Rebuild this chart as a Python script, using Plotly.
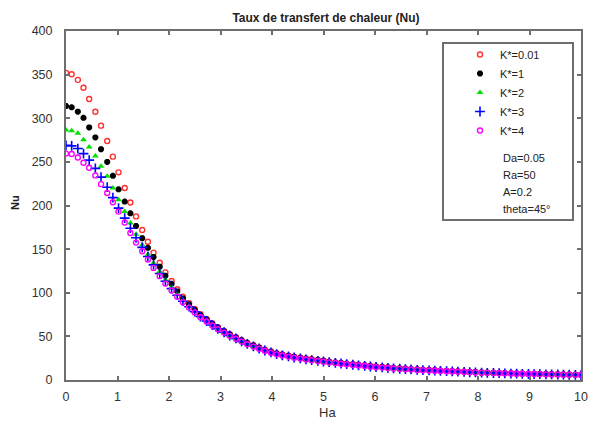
import plotly.graph_objects as go

# Hartmann number grid
ha = [0.00, 0.11, 0.23, 0.34, 0.45, 0.57, 0.68, 0.80, 0.91, 1.02,
      1.14, 1.25, 1.36, 1.48, 1.59, 1.70, 1.82, 1.93, 2.05, 2.16,
      2.27, 2.39, 2.50, 2.61, 2.73, 2.84, 2.95, 3.07, 3.18, 3.30,
      3.41, 3.52, 3.64, 3.75, 3.86, 3.98, 4.09, 4.20, 4.32, 4.43,
      4.55, 4.66, 4.77, 4.89, 5.00, 5.11, 5.23, 5.34, 5.45, 5.57,
      5.68, 5.80, 5.91, 6.02, 6.14, 6.25, 6.36, 6.48, 6.59, 6.70,
      6.82, 6.93, 7.05, 7.16, 7.27, 7.39, 7.50, 7.61, 7.73, 7.84,
      7.95, 8.07, 8.18, 8.30, 8.41, 8.52, 8.64, 8.75, 8.86, 8.98,
      9.09, 9.20, 9.32, 9.43, 9.55, 9.66, 9.77, 9.89, 10.00]

# Nusselt number for each permeability ratio K*
nu_k001 = [352, 350.5, 344, 335, 322, 307.5, 291.5, 274, 256, 238,
           220, 203.5, 187.5, 172, 158.5, 146, 134.4, 123.4, 113.5, 104,
           95.5, 88, 81.4, 75.5, 70, 65, 60.5, 56.3, 52.5, 49,
           45.7, 42.6, 39.8, 37.2, 34.8, 32.6, 30.6, 29.2, 27.9, 26.7,
           25.6, 24.6, 23.7, 22.9, 22.1, 21.0, 20.2, 19.5, 18.8, 18.1,
           17.4, 16.8, 16.1, 15.5, 15.0, 14.5, 13.7, 13.3, 12.9, 12.5,
           12.1, 11.7, 11.4, 11.1, 10.8, 10.5, 10.2, 9.9, 9.6, 9.3,
           9.1, 8.7, 8.5, 8.3, 8.1, 7.9, 7.7, 7.5, 7.4, 7.2,
           7.1, 7.0, 6.8, 6.7, 6.6, 6.4, 6.3, 6.2, 6.0]

nu_k1 = [314, 312.5, 307.5, 300.5, 289.5, 278, 264.5, 250, 234, 218.5,
         204.5, 191, 176.5, 162.5, 151.5, 141, 129.8, 119.5, 110.2, 101.5,
         93.5, 86.5, 80.2, 74.5, 69.1, 64.3, 59.8, 55.7, 51.9, 48.5,
         45.2, 42.1, 39.4, 36.8, 34.4, 32.2, 30.2, 28.9, 27.6, 26.4,
         25.3, 24.3, 23.4, 22.6, 21.8, 20.8, 20.0, 19.3, 18.6, 17.9,
         17.2, 16.6, 15.9, 15.3, 14.8, 14.3, 13.6, 13.2, 12.8, 12.4,
         12.0, 11.6, 11.3, 11.0, 10.7, 10.4, 10.1, 9.8, 9.5, 9.2,
         9.0, 8.6, 8.4, 8.2, 8.0, 7.8, 7.6, 7.4, 7.3, 7.1,
         7.0, 6.9, 6.7, 6.6, 6.5, 6.3, 6.2, 6.1, 5.9]

nu_k2 = [286.5, 285.7, 282.7, 275.5, 267, 256.7, 245, 233.5, 220, 206.5,
         193, 180, 167, 155, 144, 134, 124.4, 115, 106.4, 98.5,
         91.3, 84.8, 78.9, 73.2, 68.1, 63.4, 59.1, 55.0, 51.3, 47.8,
         44.6, 41.6, 38.8, 36.3, 34.0, 31.8, 29.8, 28.5, 27.2, 26.0,
         24.9, 23.9, 23.0, 22.2, 21.4, 20.5, 19.7, 19.0, 18.3, 17.6,
         16.9, 16.3, 15.6, 15.0, 14.5, 14.0, 13.4, 13.0, 12.6, 12.2,
         11.8, 11.4, 11.1, 10.8, 10.5, 10.2, 9.9, 9.6, 9.3, 9.0,
         8.8, 8.5, 8.3, 8.1, 7.9, 7.7, 7.5, 7.3, 7.2, 7.0,
         6.9, 6.8, 6.6, 6.5, 6.4, 6.2, 6.1, 6.0, 5.8]

nu_k3 = [269, 268.3, 265.3, 259.5, 252, 242.6, 232.5, 221, 209, 197,
         185.5, 174, 163, 152, 141.5, 132, 122.1, 113.1, 104.7, 97.2,
         90.3, 84, 78.3, 72.7, 67.6, 63.0, 58.7, 54.7, 51.0, 47.6,
         44.3, 41.3, 38.6, 36.1, 33.8, 31.6, 29.6, 28.3, 27.0, 25.8,
         24.7, 23.7, 22.8, 22.0, 21.2, 20.4, 19.6, 18.9, 18.2, 17.5,
         16.8, 16.2, 15.5, 14.9, 14.4, 13.9, 13.3, 12.9, 12.5, 12.1,
         11.7, 11.3, 11.0, 10.7, 10.4, 10.1, 9.8, 9.5, 9.2, 8.9,
         8.7, 8.4, 8.2, 8.0, 7.8, 7.6, 7.4, 7.2, 7.1, 6.9,
         6.8, 6.7, 6.5, 6.4, 6.3, 6.1, 6.0, 5.9, 5.7]

nu_k4 = [259.5, 259, 255, 249, 243.3, 234.5, 224.5, 214.3, 203.7, 193,
         180.5, 168.5, 157.5, 147.5, 138, 128.5, 119, 110.5, 102.5, 95.5,
         89, 83, 77.5, 72, 67, 62.5, 58.3, 54.3, 50.6, 47.2,
         44, 41, 38.3, 35.8, 33.5, 31.3, 29.4, 28.1, 26.8, 25.6,
         24.5, 23.5, 22.6, 21.8, 21.0, 20.2, 19.4, 18.7, 18.0, 17.3,
         16.6, 16.0, 15.3, 14.7, 14.2, 13.7, 13.2, 12.8, 12.4, 12.0,
         11.6, 11.2, 10.9, 10.6, 10.3, 10.0, 9.7, 9.4, 9.1, 8.8,
         8.6, 8.4, 8.2, 8.0, 7.8, 7.6, 7.4, 7.2, 7.1, 6.9,
         6.8, 6.7, 6.5, 6.4, 6.3, 6.1, 6.0, 5.9, 5.7]

series_names = ["K*=0.01", "K*=1", "K*=2", "K*=3", "K*=4"]
series_values = [nu_k001, nu_k1, nu_k2, nu_k3, nu_k4]
params = ["Da=0.05", "Ra=50", "A=0.2", "theta=45°"]

x_ticks = list(range(0, 11))
y_ticks = list(range(0, 401, 50))

styles = [
    dict(symbol="circle-open", color="#ff3030", size=5, line=dict(width=1.4, color="#ff3030")),
    dict(symbol="asterisk-open", color="#000000", size=5, line=dict(width=2.2, color="#000000")),
    dict(symbol="triangle-up", color="#00e000", size=6, line=dict(width=0)),
    dict(symbol="cross-thin-open", color="#0000ff", size=7, line=dict(width=1.6, color="#0000ff")),
    dict(symbol="circle-open", color="#ff00ff", size=5, line=dict(width=1.4, color="#ff00ff")),
]

FONT = "Liberation Sans, Arial, sans-serif"
W, H = 589, 421
ML, MR, MT, MB = 66, 8, 31, 41
PW, PH = W - ML - MR, H - MT - MB


def px_x(px):
    return (px - ML) / PW


def px_y(py):
    return (H - MB - py) / PH


fig = go.Figure()
for name, vals, st in zip(series_names, series_values, styles):
    fig.add_trace(go.Scatter(x=ha, y=vals, mode="markers", name=name, marker=st))

axis_common = dict(
    showline=True, linecolor="#6e6e6e", linewidth=2, mirror="ticks",
    ticks="inside", ticklen=4, tickwidth=1.5, tickcolor="#6e6e6e",
    showgrid=False, zeroline=False, ticklabeloverflow="allow", automargin=False,
    tickfont=dict(family=FONT, size=12.5, color="#333333"),
)

fig.update_layout(
    width=W, height=H,
    margin=dict(l=ML, r=MR, t=MT, b=MB, autoexpand=False),
    paper_bgcolor="white", plot_bgcolor="white",
    font=dict(family=FONT, color="#222222"),
    title=dict(text="<b>Taux de transfert de chaleur (Nu)</b>",
               x=px_x(326), xref="paper", xanchor="center",
               y=1 - 18 / H, yanchor="middle",
               font=dict(family=FONT, size=12, color="#222222")),
    xaxis=dict(range=[0, 10], tickvals=x_ticks, ticklabelstandoff=4, **axis_common),
    yaxis=dict(range=[0, 400], tickvals=y_ticks, ticklabelstandoff=9, **axis_common),
    showlegend=True,
    legend=dict(x=px_x(460), y=px_y(40), xanchor="left", yanchor="top",
                bgcolor="rgba(0,0,0,0)", borderwidth=0,
                font=dict(family=FONT, size=11, color="#222222")),
)

# legend frame
fig.add_shape(type="rect", xref="paper", yref="paper",
              x0=px_x(443), x1=px_x(573), y0=px_y(220), y1=px_y(43),
              line=dict(color="#6e6e6e", width=2), fillcolor="white", layer="above")

# parameter block inside the legend frame
for i, txt in enumerate(params):
    fig.add_annotation(text=txt, xref="paper", yref="paper",
                       x=px_x(501), y=px_y(158 + 17 * i),
                       xanchor="left", yanchor="middle", showarrow=False,
                       font=dict(family=FONT, size=11, color="#222222"))

# axis titles
fig.add_annotation(text="Ha", xref="paper", yref="paper", x=px_x(327), y=px_y(412),
                   xanchor="center", yanchor="middle", showarrow=False,
                   font=dict(family=FONT, size=13, color="#333333"))
fig.add_annotation(text="<b>Nu</b>", xref="paper", yref="paper", x=px_x(15), y=px_y(203),
                   xanchor="center", yanchor="middle", showarrow=False, textangle=-90,
                   font=dict(family=FONT, size=11, color="#222222"))

fig.write_html("out.html")
